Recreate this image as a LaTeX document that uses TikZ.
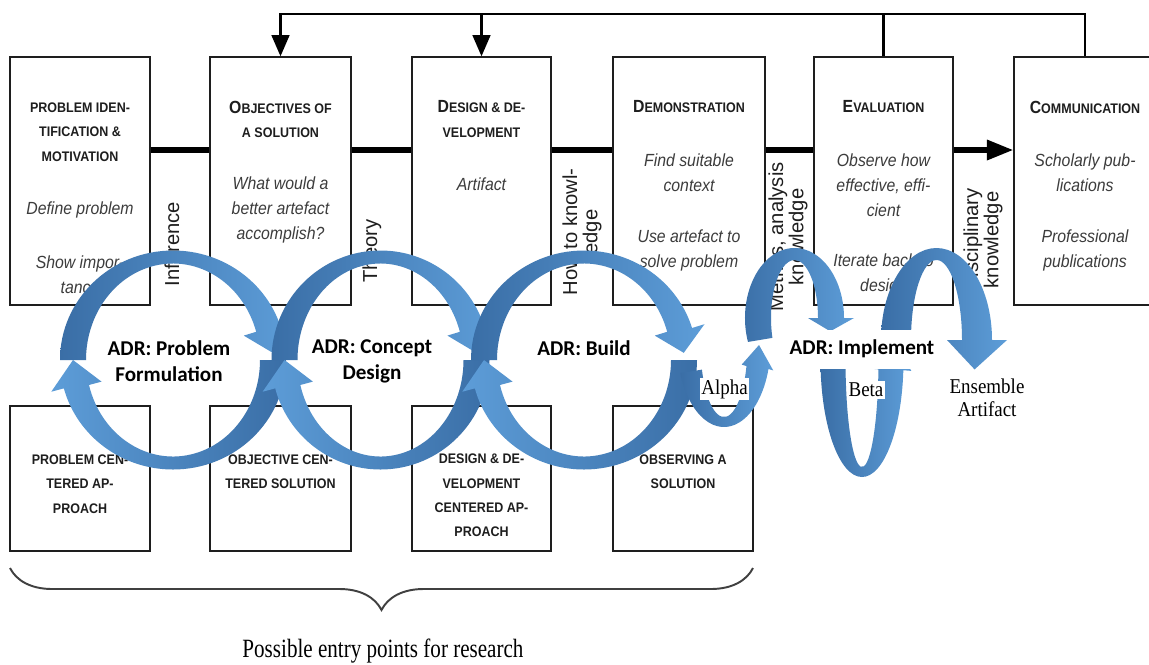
\documentclass[tikz,border=0pt]{standalone}
\usepackage{fontspec}
\usetikzlibrary{arrows.meta,decorations.pathreplacing,calc}

\newfontfamily\boxfont[FakeStretch=0.9]{Liberation Sans}
\newfontfamily\labfont{Liberation Sans}
\newfontfamily\adrfont{Carlito}
\newfontfamily\serfont[FakeStretch=0.9]{Liberation Serif}
\newfontfamily\capfont[FakeStretch=0.8]{Liberation Serif}

\definecolor{inkgray}{RGB}{30,30,30}
\definecolor{notegray}{RGB}{60,60,60}
\definecolor{adrdark}{RGB}{58,110,166}
\definecolor{adrlight}{RGB}{93,157,216}

% enlarged initial for the small-caps headings
\newcommand\bigc[1]{{\fontsize{10}{13.8}\selectfont #1}}

% band half-thickness (horizontal, vertical) and arrow wing overhang
\def\bta{13}\def\btb{6.5}\def\bwg{13}

% curved block arrow: style, centre x, centre y, radius x, radius y,
% start angle, end angle of the band, angle of the tip
\newcommand\bandarrow[8]{%
  \path[#1]
    ({#2+(#4+\bta)*cos(#6)},{#3+(#5+\btb)*sin(#6)})
    arc[start angle=#6, end angle=#7, x radius={#4+\bta}, y radius={#5+\btb}]
    -- ({#2+(#4+\bta+\bwg)*cos(#7)},{#3+(#5+\btb+\bwg)*sin(#7)})
    -- ({#2+#4*cos(#8)},{#3+#5*sin(#8)})
    -- ({#2+(#4-\bta-\bwg)*cos(#7)},{#3+(#5-\btb-\bwg)*sin(#7)})
    -- ({#2+(#4-\bta)*cos(#7)},{#3+(#5-\btb)*sin(#7)})
    arc[start angle=#7, end angle=#6, x radius={#4-\bta}, y radius={#5-\btb}]
    -- cycle;}

\tikzset{
  stage/.style={draw=inkgray, line width=0.8pt, inner sep=0, minimum height=4.96cm},
  entrybox/.style={draw=inkgray, line width=0.8pt, inner sep=0, minimum height=2.9cm},
  head/.style={font=\boxfont\bfseries\fontsize{7.9}{13.8}\selectfont, align=center, inner sep=0, text=inkgray},
  note/.style={font=\boxfont\itshape\fontsize{10}{14.2}\selectfont, align=center, inner sep=0, text=notegray},
  vlab/.style={font=\labfont\fontsize{11.5}{11.5}\selectfont, align=center, inner sep=0, rotate=90, text=inkgray},
  adr/.style={font=\adrfont\bfseries\fontsize{12}{14.7}\selectfont, align=center, inner sep=0, text=black},
  tag/.style={font=\serfont\fontsize{12}{13}\selectfont, align=center, inner sep=1pt, fill=white, text=black},
  proc/.style={line width=3pt, draw=black},
  loopline/.style={line width=1.4pt, draw=black, line join=miter},
  darkleft/.style={left color=adrdark, right color=adrlight},
  darkright/.style={left color=adrlight, right color=adrdark},
}

\begin{document}
\begin{tikzpicture}[x=0.02cm, y=-0.02cm]
\useasboundingbox (0,0) rectangle (1149,664);
\fill[white] (0,0) rectangle (1149,664);
\clip (0,0) rectangle (1149,664);

% process stages
\node[stage, minimum width=2.8cm]  (t1) at (80,181) {};
\node[stage, minimum width=2.82cm] (t2) at (280.5,181) {};
\node[stage, minimum width=2.78cm] (t3) at (481.5,181) {};
\node[stage, minimum width=3.04cm] (t4) at (689,181) {};
\node[stage, minimum width=2.78cm] (t5) at (883.5,181) {};
\node[stage, minimum width=2.84cm] (t6) at (1085,181) {};

% entry points
\node[entrybox, minimum width=2.8cm]  (b1) at (80,478.5) {};
\node[entrybox, minimum width=2.82cm] (b2) at (280.5,478.5) {};
\node[entrybox, minimum width=2.78cm] (b3) at (481.5,478.5) {};
\node[entrybox, minimum width=2.8cm]  (b4) at (683,478.5) {};

% stage headings
\node[head] (h1) at (80,132) {PROBLEM IDEN-\\TIFICATION \&\\MOTIVATION};
\node[head] (h2) at (280.5,119.5) {\bigc{O}BJECTIVES OF\\A SOLUTION};
\node[head] (h3) at (481.5,119) {\bigc{D}ESIGN \& DE-\\VELOPMENT};
\node[head] (h4) at (689,107) {\bigc{D}EMONSTRATION};
\node[head] (h5) at (883.5,107) {\bigc{E}VALUATION};
\node[head] (h6) at (1085,107) {\bigc{C}OMMUNICATION};

% stage notes
\node[note] (n1a) at (80,210) {Define problem};
\node[note] (n1b) at (80,274.5) {Show impor-\\tance};
\node[note] (n2a) at (280.5,210) {What would a\\better artefact\\accomplish?};
\node[note] (n3a) at (481.5,184) {Artifact};
\node[note] (n4a) at (689,172.5) {Find suitable\\context};
\node[note] (n4b) at (689,250.5) {Use artefact to\\solve problem};
\node[note] (n5a) at (883.5,185) {Observe how\\effective, effi-\\cient};
\node[note] (n5b) at (883.5,274.5) {Iterate back to\\design};
\node[note] (n6a) at (1085,172.5) {Scholarly pub-\\lications};
\node[note] (n6b) at (1085,250.5) {Professional\\publications};

% entry point headings
\node[head] (e1) at (80,484) {PROBLEM CEN-\\TERED AP-\\PROACH};
\node[head] (e2) at (280.5,471.5) {OBJECTIVE CEN-\\TERED SOLUTION};
\node[head] (e3) at (481.5,495.5) {DESIGN \& DE-\\VELOPMENT\\CENTERED AP-\\PROACH};
\node[head] (e4) at (683,472) {OBSERVING A\\SOLUTION};

% knowledge labels between stages
\node[vlab] (v1) at (172,244) {Inference};
\node[vlab] (v2) at (372,251) {Theory};
\node[vlab] (v3) at (582,232) {How to knowl-\\edge};
\node[vlab] (v4) at (788,237) {Metrics, analysis\\knowledge};
\node[vlab] (v5) at (983,240) {Disciplinary\\knowledge};

% process sequence
\coordinate (ln) at (0,150);
\draw[proc] (t1.east |- ln) -- (t2.west |- ln);
\draw[proc] (t2.east |- ln) -- (t3.west |- ln);
\draw[proc] (t3.east |- ln) -- (t4.west |- ln);
\draw[proc] (t4.east |- ln) -- (t5.west |- ln);
\draw[proc, -{Triangle[length=15pt, width=11pt]}] (t5.east |- ln) -- (t6.west |- ln);

% iteration loops along the top
\coordinate (fb) at (0,14);
\draw[loopline, -{Triangle[length=12pt, width=10pt]}]
  (t6.north) -- (t6.north |- fb) -- (t2.north |- fb) -- (t2.north);
\draw[loopline] (t5.north) -- (t5.north |- fb);
\draw[loopline, -{Triangle[length=12pt, width=10pt]}] (t3.north |- fb) -- (t3.north);

% ADR cycles
\def\bta{13}\def\btb{6.5}\def\bwg{13}
\bandarrow{darkright}{173}{360}{100}{103}{0}{165}{180}
\bandarrow{darkleft}{173}{360}{100}{103}{180}{343}{356}
\bandarrow{darkright}{380.5}{360}{96}{103}{0}{165}{180}
\bandarrow{darkleft}{380.5}{360}{96}{103}{180}{343}{356}
\bandarrow{darkright}{584}{360}{100}{103}{0}{165}{180}
\bandarrow{darkleft}{584}{360}{100}{103}{180}{343}{356}

% implementation waves
\def\bta{13}\def\btb{6}\def\bwg{10}
\bandarrow{darkleft}{794.5}{318}{36.5}{64}{160}{360}{372}
\def\bta{11.5}\def\btb{5}\def\bwg{5}
\bandarrow{darkleft}{724}{345}{35}{77}{160}{17}{0}
\def\bta{12.5}\def\btb{5}\def\bwg{8}
\bandarrow{darkleft}{862}{360}{29}{112}{180}{5}{-12}
\def\bta{15}\def\btb{6}\def\bwg{15}
\bandarrow{darkleft}{936.5}{340}{40.5}{86}{180}{360}{380}

% ADR phase labels
\node[adr] (p1) at (169,361) {ADR: Problem\\Formulation};
\node[adr] (p2) at (372,361) {ADR: Concept\\Design};
\node[adr] (p3) at (584,348) {ADR: Build};
\node[adr, fill=white, minimum width=3cm, minimum height=0.78cm] (p4) at (862,349) {ADR: Implement};
\node[tag] (ta) at (724.5,389) {Alpha};
\node[tag] (tb) at (866,390) {Beta};
\node[tag, fill=none] (tc) at (987,398) {Ensemble\\Artifact};

% entry point brace
\coordinate (brL) at (10,568);
\coordinate (brR) at (753,568);
\draw[line width=1.1pt, draw=inkgray!85, decorate, decoration={brace, mirror, amplitude=0.84cm}] (brL) -- (brR);
\node[font=\capfont\fontsize{15}{15}\selectfont, inner sep=0, text=black] (cap) at (383,651) {Possible entry points for research};
\end{tikzpicture}
\end{document}
